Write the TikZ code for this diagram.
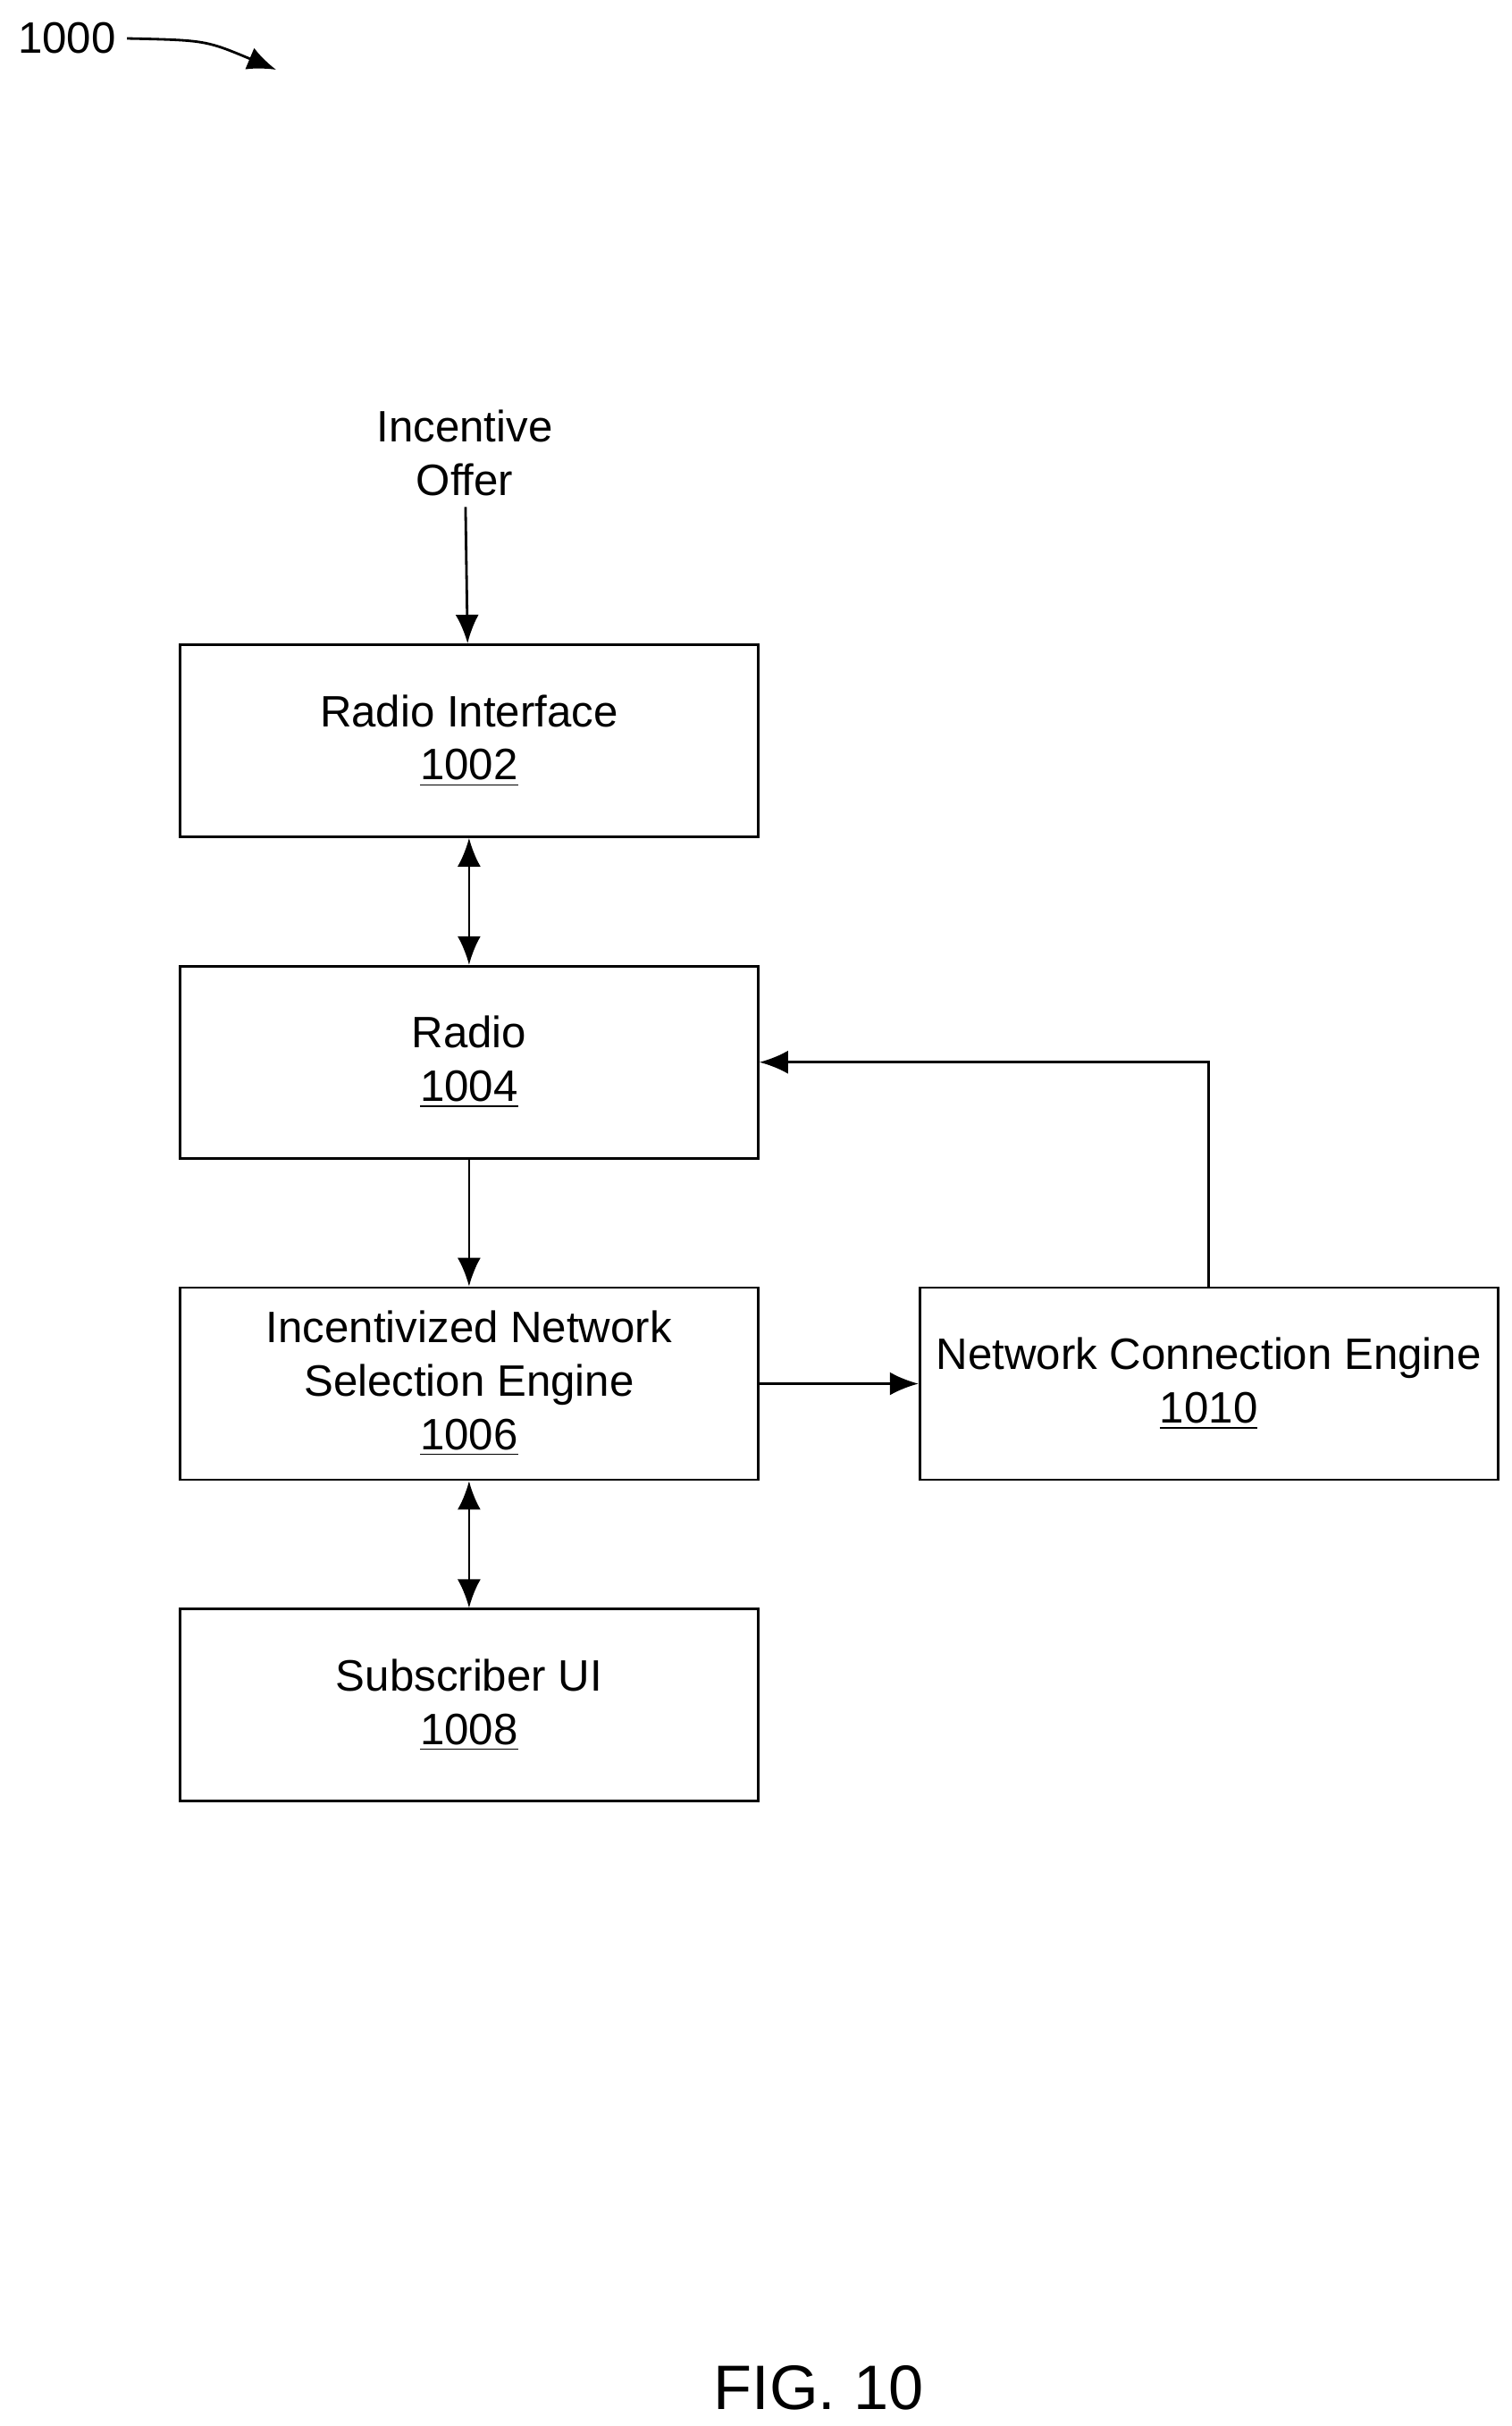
\documentclass[tikz,border=0pt]{standalone}
\usepackage{fontspec}
\setmainfont{Liberation Sans}
\usetikzlibrary{positioning, arrows.meta}
\tikzstyle{block} = [rectangle, draw, thick, minimum width=6.47cm, minimum height=2.15cm, align=center, font=\fontsize{14}{17}\selectfont]
\tikzstyle{arrow} = [thick,-{Latex[length=3.2mm,width=2.6mm]}]
\tikzstyle{biarrow} = [thick,{Latex[length=3.2mm,width=2.6mm]}-{Latex[length=3.2mm,width=2.6mm]}]
\begin{document}
\begin{tikzpicture}
    \useasboundingbox (0,0) rectangle (16.92,-27.15);
    \node[block, anchor=north west] (radioif) at (2.00,-7.20) {Radio Interface\\\underline{1002}};
    \node[block, below=1.42cm of radioif] (radio) {Radio\\\underline{1004}};
    \node[block, below=1.42cm of radio] (inse) {Incentivized Network\\Selection Engine\\\underline{1006}};
    \node[block, below=1.42cm of inse] (subui) {Subscriber UI\\\underline{1008}};
    \node[block, right=1.78cm of inse] (nce) {Network Connection Engine\\\underline{1010}};
    \node[align=center, font=\fontsize{14}{17}\selectfont] (offer) at (5.20,-5.07) {Incentive\\Offer};
    \node[font=\fontsize{14}{17}\selectfont] (fignum) at (0.75,-0.43) {1000};
    \coordinate (fignumtip) at (3.09,-0.78);
    \node[font=\fontsize{20}{24}\selectfont] (figlabel) at (9.16,-26.72) {FIG. 10};

    \draw[arrow] (offer) -- (radioif);
    \draw[biarrow] (radioif) -- (radio);
    \draw[arrow] (radio) -- (inse);
    \draw[biarrow] (inse) -- (subui);
    \draw[arrow] (inse) -- (nce);
    \draw[arrow] (nce.north) |- (radio.east);
    \draw[arrow] (fignum.east) .. controls (2.3,-0.45) .. (fignumtip);
\end{tikzpicture}
\end{document}
